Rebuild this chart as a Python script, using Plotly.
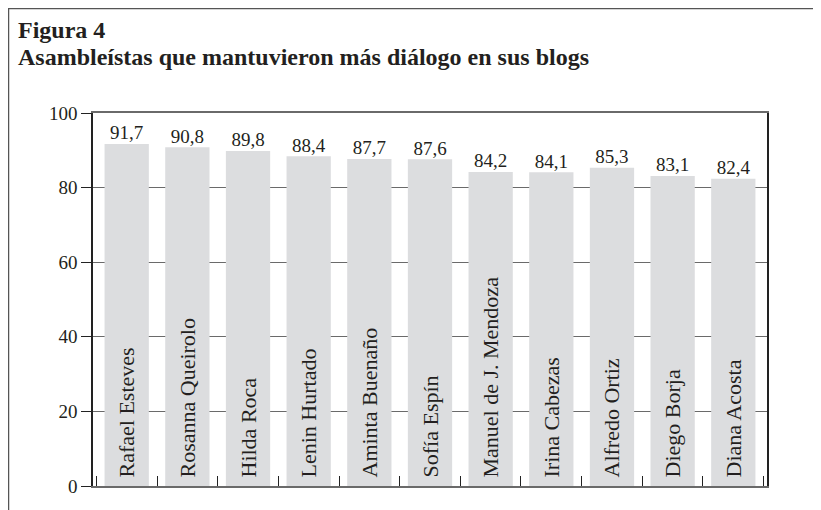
import plotly.graph_objects as go

# Datos de la figura
nombres = ["Rafael Esteves", "Rosanna Queirolo", "Hilda Roca", "Lenin Hurtado",
           "Aminta Buenaño", "Sofía Espín", "Manuel de J. Mendoza", "Irina Cabezas",
           "Alfredo Ortiz", "Diego Borja", "Diana Acosta"]
valores = [91.7, 90.8, 89.8, 88.4, 87.7, 87.6, 84.2, 84.1, 85.3, 83.1, 82.4]
ticks_y = [0, 20, 40, 60, 80, 100]

FUENTE = "Liberation Serif"
TEXTO = "#231f20"
GRIS = "#dcdddf"
LINEA = "#6a6a6a"

# la página tiene 8px de margen en el body: se compensa aquí
OFF = 8
W, H = 821 - OFF, 510 - OFF
ml, mr, mt, mb = 93 - OFF, 54, 113 - OFF, 24
pw, ph = W - ml - mr, H - mt - mb


def px_x(p):
    # p en píxeles de página
    return (p - OFF - ml) / pw


def px_y(p):
    return (H - mb - (p - OFF)) / ph


fig = go.Figure()

fig.add_trace(go.Bar(
    x=nombres, y=valores,
    marker=dict(color=GRIS, line=dict(width=0)),
    text=nombres, texttemplate="\u00a0%{text}",
    textposition="inside", insidetextanchor="start",
    textangle=-90, textfont=dict(family=FUENTE, size=22, color=TEXTO),
    hoverinfo="skip", showlegend=False,
))

fig.add_trace(go.Scatter(
    x=nombres, y=valores, mode="text",
    text=[f"{v:.1f}".replace(".", ",") for v in valores],
    textposition="top center",
    textfont=dict(family=FUENTE, size=19, color=TEXTO),
    cliponaxis=False, hoverinfo="skip", showlegend=False,
))

# Marco exterior (arriba e izquierda)
fig.add_shape(type="line", xref="paper", yref="paper",
              x0=px_x(OFF), x1=px_x(830), y0=px_y(OFF + 0.5), y1=px_y(OFF + 0.5),
              line=dict(color="#555555", width=1.5))
fig.add_shape(type="line", xref="paper", yref="paper",
              x0=px_x(OFF + 0.5), x1=px_x(OFF + 0.5), y0=px_y(OFF), y1=px_y(520),
              line=dict(color="#555555", width=1.5))

fig.add_annotation(text="<b>Figura 4</b>", xref="paper", yref="paper",
                   x=px_x(16), y=px_y(15), xanchor="left", yanchor="top",
                   showarrow=False, font=dict(family=FUENTE, size=24, color=TEXTO))
fig.add_annotation(text="<b>Asambleístas que mantuvieron más diálogo en sus blogs</b>",
                   xref="paper", yref="paper",
                   x=px_x(16), y=px_y(42), xanchor="left", yanchor="top",
                   showarrow=False, font=dict(family=FUENTE, size=24, color=TEXTO))

fig.update_layout(
    width=W, height=H,
    margin=dict(l=ml, r=mr, t=mt, b=mb),
    paper_bgcolor="white", plot_bgcolor="white",
    bargap=0.27,
    font=dict(family=FUENTE, color=TEXTO),
)
fig.update_xaxes(
    showline=True, linecolor=LINEA, linewidth=1.5, mirror=True,
    showticklabels=False, ticks="inside", ticklen=10, tickcolor="#222222",
    tickson="boundaries", showgrid=False,
)
fig.update_yaxes(
    range=[0, 100], tickvals=ticks_y,
    showline=True, linecolor="#222222", linewidth=1.5, mirror=True,
    ticks="outside", ticklen=10, tickcolor="#222222",
    showgrid=True, gridcolor=LINEA, gridwidth=1.2,
    zeroline=False,
    tickfont=dict(family=FUENTE, size=19, color=TEXTO),
)

fig.write_html("out.html")
